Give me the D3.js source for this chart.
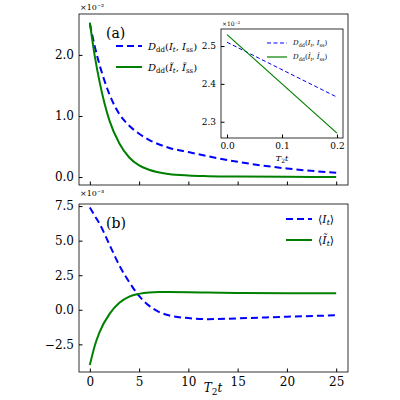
<!DOCTYPE html>
<html><head><meta charset="utf-8">
<script src="https://cdn.jsdelivr.net/npm/d3@7"></script>
<style>body{margin:0;background:#fff}text{font-family:"DejaVu Serif","Liberation Serif",serif}</style>
</head><body><div id="chart-area"></div>
<script>
var times = [0,0.5,1,1.5,2,3,4,5,6,8,10,12,15,20,25];
var distBlue = [2.51,2.14,1.83,1.57,1.35,1.03,0.84,0.71,0.61,0.48,0.41,0.34,0.25,0.14,0.07];
var distGreen = [2.53,1.98,1.55,1.2,0.92,0.55,0.32,0.19,0.12,0.05,0.025,0.015,0.008,0.004,0.002];

var times2 = [0,0.5,1,2,3,4,5,6,7,8,10,12,15,20,25];
var meanBlue = [7.4,6.8,6.2,4.7,3.2,2.0,1.0,0.3,-0.15,-0.4,-0.6,-0.68,-0.62,-0.5,-0.4];
var meanGreen = [-4.0,-2.6,-1.6,-0.3,0.5,0.95,1.15,1.25,1.28,1.28,1.27,1.25,1.22,1.2,1.2];

var insetT = [0,0.2];
var insetBlue = [2.51,2.365];
var insetGreen = [2.53,2.27];

var BLUE = "#0000ff", GREEN = "#008000";

var svg = d3.select("#chart-area").append("svg")
    .attr("width",400).attr("height",400);

function panel(box, xd, yd, xt, yt, fmtY, showX, fs){
    var x = d3.scaleLinear().domain(xd).range([box.l, box.r]);
    var y = d3.scaleLinear().domain(yd).range([box.b, box.t]);
    var g = svg.append("g");
    g.append("g").attr("transform","translate(0,"+box.b+")")
        .call(d3.axisBottom(x).tickValues(xt).tickSizeInner(-3.5).tickSizeOuter(0).tickPadding(5)
        .tickFormat(showX ? d3.format(xt[1]-xt[0] < 1 ? ".1f" : "d") : ""))
        .call(s=>{s.select(".domain").remove(); s.selectAll("text").attr("font-size",fs);});
    g.append("g").attr("transform","translate("+box.l+",0)")
        .call(d3.axisLeft(y).tickValues(yt).tickSizeInner(-3.5).tickSizeOuter(0).tickPadding(5).tickFormat(fmtY))
        .call(s=>{s.select(".domain").remove(); s.selectAll("text").attr("font-size",fs);});
    g.append("rect").attr("x",box.l).attr("y",box.t).attr("width",box.r-box.l).attr("height",box.b-box.t)
        .attr("fill","none").attr("stroke","#000").attr("stroke-width",0.8);
    g.selectAll(".tick line").attr("stroke","#000");
    return {x:x, y:y, g:g};
}

function line(p, xs, ys, color, dash, w){
    p.g.append("path").datum(xs.map((t,i)=>[t,ys[i]]))
        .attr("fill","none").attr("stroke",color).attr("stroke-width",w)
        .attr("stroke-dasharray",dash)
        .attr("d", d3.line().x(d=>p.x(d[0])).y(d=>p.y(d[1])).curve(d3.curveMonotoneX));
}

function legend(g, x, y, color, dash, w, len, parts, fs){
    g.append("line").attr("x1",x).attr("x2",x+len).attr("y1",y).attr("y2",y)
        .attr("stroke",color).attr("stroke-width",w).attr("stroke-dasharray",dash);
    var t = g.append("text").attr("x",x+len+6).attr("y",y+fs*0.35).attr("font-size",fs);
    parts.forEach(pp=>{
        var s = t.append("tspan").text(pp[0]);
        if (pp[1]==="i") s.attr("font-style","italic");
        if (pp[1]==="sub") s.attr("font-size",fs*0.7).attr("dy",fs*0.2);
        if (pp[1]==="isub") s.attr("font-size",fs*0.7).attr("dy",fs*0.2).attr("font-style","italic");
        if (pp[1]==="up") s.attr("dy",-fs*0.2);
    });
}

var f1 = d3.format(".1f");
// top panel
var p1 = panel({l:79,r:348,t:14,b:185}, [-1.1,26.2], [-0.13,2.67], [0,5,10,15,20,25], [0,1,2], f1, false, 12);
line(p1, times, distBlue, BLUE, "7,4", 2);
line(p1, times, distGreen, GREEN, null, 2);
svg.append("text").attr("x",80).attr("y",10).attr("font-size",8).text("×10⁻²");
svg.append("text").attr("x",106).attr("y",38).attr("font-size",14).text("(a)");
var dBlue = [["D","i"],["dd","sub"],["(","up"],["I","i"],["t","isub"],[", ","up"],["I","i"],["ss","sub"],[")","up"]];
var dGreen = [["D","i"],["dd","sub"],["(","up"],["Ĩ","i"],["t","isub"],[", ","up"],["Ĩ","i"],["ss","sub"],[")","up"]];
legend(svg, 116, 46, BLUE, "7,4", 2, 26, dBlue, 10);
legend(svg, 116, 67, GREEN, null, 2, 26, dGreen, 10);

// inset
var p3 = panel({l:221,r:343,t:29,b:138}, [-0.011,0.211], [2.257,2.545], [0,0.1,0.2], [2.3,2.4,2.5], f1, true, 9);
p3.g.insert("rect",":first-child").attr("x",221).attr("y",29).attr("width",122).attr("height",109).attr("fill","#fff");
line(p3, insetT, insetBlue, BLUE, "4,2.5", 1);
line(p3, insetT, insetGreen, GREEN, null, 1.2);
svg.append("text").attr("x",222).attr("y",26).attr("font-size",6).text("×10⁻²");
svg.append("text").attr("x",282).attr("y",161).attr("font-size",8).attr("text-anchor","middle")
    .call(t=>{t.append("tspan").attr("font-style","italic").text("T");t.append("tspan").attr("font-size",6).attr("dy",2).text("2");t.append("tspan").attr("font-style","italic").attr("dy",-2).text("t");});
legend(svg, 267, 43, BLUE, "4,2.5", 1, 20, dBlue, 7);
legend(svg, 267, 57, GREEN, null, 1.2, 20, dGreen, 7);

// bottom panel
var p2 = panel({l:79,r:348,t:204,b:372}, [-1.1,26.2], [-4.5,7.65], [0,5,10,15,20,25], [-2.5,0,2.5,5,7.5], f1, true, 12);
line(p2, times2, meanBlue, BLUE, "7,4", 2);
line(p2, times2, meanGreen, GREEN, null, 2);
svg.append("text").attr("x",80).attr("y",196).attr("font-size",8).text("×10⁻³");
svg.append("text").attr("x",106).attr("y",228).attr("font-size",14).text("(b)");
legend(svg, 286, 219, BLUE, "7,4", 2, 26, [["⟨","n"],["I","i"],["t","isub"],["⟩","up"]], 11);
legend(svg, 286, 240, GREEN, null, 2, 26, [["⟨","n"],["Ĩ","i"],["t","isub"],["⟩","up"]], 11);
svg.append("text").attr("x",213).attr("y",392).attr("font-size",12).attr("text-anchor","middle")
    .call(t=>{t.append("tspan").attr("font-style","italic").text("T");t.append("tspan").attr("font-size",9).attr("dy",3).text("2");t.append("tspan").attr("font-style","italic").attr("dy",-3).text("t");});
</script></body></html>
